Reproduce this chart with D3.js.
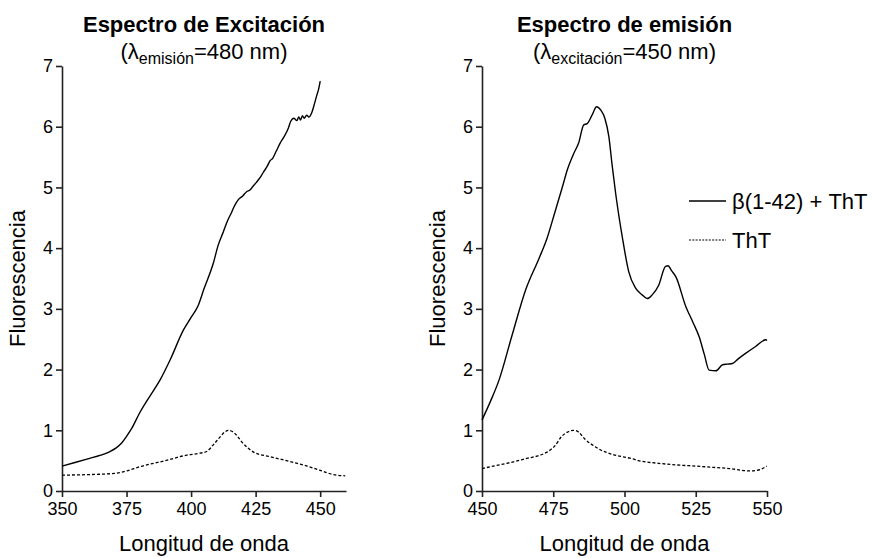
<!DOCTYPE html>
<html>
<head>
<meta charset="utf-8">
<script src="https://cdn.jsdelivr.net/npm/d3@7"></script>
<style>
  html, body { margin: 0; padding: 0; background: #fff; }
  svg { display: block; font-family: Arial, "Liberation Sans", sans-serif; }
</style>
</head>
<body>
<svg id="chart" width="877" height="558"></svg>
<script>
// ---------- Data ----------
const yTicks = [0, 1, 2, 3, 4, 5, 6, 7];
const excTicks = [350, 375, 400, 425, 450];
const emiTicks = [450, 475, 500, 525, 550];

// Left panel: excitation spectrum
const excBetaX = [350, 355, 360, 365, 368.6, 371, 373.1, 375, 377, 380, 384, 388, 392, 397, 400, 402.8, 405, 408.6, 410.5, 412.5, 414.2, 415.8, 416.5, 418.3, 420, 421.5, 422.9, 424, 425.2, 426.7, 428, 429.5, 430.6, 431.6, 433, 434.5, 435.8, 437.7, 438.6, 439.8, 441, 441.7, 442.4, 443.1, 443.8, 444.8, 445.6, 446.8, 447.8, 448.7, 449.4, 450];
const excBetaY = [0.41, 0.47, 0.53, 0.59, 0.65, 0.71, 0.79, 0.9, 1.03, 1.28, 1.56, 1.83, 2.17, 2.65, 2.86, 3.06, 3.33, 3.75, 4.05, 4.27, 4.46, 4.6, 4.67, 4.8, 4.86, 4.93, 4.96, 5.02, 5.08, 5.16, 5.25, 5.35, 5.44, 5.48, 5.6, 5.73, 5.82, 5.98, 6.09, 6.14, 6.1, 6.16, 6.11, 6.18, 6.14, 6.19, 6.16, 6.24, 6.38, 6.52, 6.62, 6.75];

const excThtX = [350, 360, 370.5, 375, 380.2, 390, 398.3, 403, 406, 408.6, 411, 413, 414.5, 416, 418, 419.6, 422, 424.2, 430, 435, 439.7, 445, 450, 455.2, 459.7];
const excThtY = [0.26, 0.27, 0.29, 0.33, 0.4, 0.5, 0.59, 0.62, 0.65, 0.76, 0.88, 0.97, 1.0, 0.98, 0.9, 0.81, 0.71, 0.64, 0.57, 0.52, 0.47, 0.41, 0.34, 0.27, 0.25];

// Right panel: emission spectrum
const emiBetaX = [450, 453, 456, 460.4, 465.3, 470, 472.8, 475.5, 478.1, 480, 482.2, 483.9, 485.7, 486.9, 488.6, 490.2, 491.6, 493.1, 494.5, 495.7, 496.9, 499.2, 501.5, 503.9, 506.2, 508, 509.7, 512, 514.4, 515.3, 516.5, 518, 521.5, 524, 526.2, 528, 529.7, 532.1, 534.4, 536, 537.9, 540, 542.6, 546, 549.6, 550];
const emiBetaY = [1.17, 1.48, 1.83, 2.54, 3.31, 3.83, 4.16, 4.58, 4.99, 5.3, 5.56, 5.73, 6.03, 6.05, 6.19, 6.33, 6.28, 6.14, 5.84, 5.35, 4.9, 4.19, 3.61, 3.34, 3.23, 3.17, 3.23, 3.39, 3.7, 3.71, 3.63, 3.53, 3.04, 2.78, 2.54, 2.25, 1.99, 1.98, 2.08, 2.09, 2.1, 2.18, 2.27, 2.38, 2.49, 2.48];

const emiThtX = [450, 455, 461, 466, 470.4, 472.8, 475.5, 478, 480, 482.2, 483.9, 486, 489.7, 491.5, 496, 501.9, 506, 511.1, 518, 525.2, 531, 536.9, 543.9, 547.4, 549.9];
const emiThtY = [0.37, 0.42, 0.48, 0.54, 0.59, 0.64, 0.74, 0.9, 0.97, 1.0, 0.97, 0.86, 0.73, 0.68, 0.6, 0.54, 0.49, 0.46, 0.43, 0.41, 0.39, 0.37, 0.33, 0.35, 0.41];

const legendLabels = ["\u03B2(1-42) + ThT", "ThT"];

// ---------- Drawing ----------
const svg = d3.select("#chart");
const plotTop = 66, plotBottom = 491;
const y = d3.scaleLinear().domain([0, 7]).range([plotBottom, plotTop]);
const axisColor = "#222";

function panel(opt) {
  const x = d3.scaleLinear().domain(opt.domain).range(opt.range);
  const g = svg.append("g");

  const xa = g.append("g").attr("transform", `translate(0,${plotBottom})`)
    .call(d3.axisBottom(x).tickValues(opt.ticks).tickFormat(d3.format("d")).tickSize(6).tickSizeOuter(0).tickPadding(5));
  const ya = g.append("g").attr("transform", `translate(${opt.range[0]},0)`)
    .call(d3.axisLeft(y).tickValues(yTicks).tickFormat(d3.format("d")).tickSize(6).tickSizeOuter(0).tickPadding(3));
  [xa, ya].forEach(a => {
    a.select(".domain").attr("stroke", axisColor).attr("stroke-width", 1.6);
    a.selectAll(".tick line").attr("stroke", axisColor).attr("stroke-width", 1.6);
    a.selectAll(".tick text").attr("fill", "#000").style("font-size", "18px")
      .style("font-family", "Arial, 'Liberation Sans', sans-serif");
  });

  const line = d3.line().x(d => x(d[0])).y(d => y(d[1])).curve(d3.curveMonotoneX);
  g.append("path").datum(d3.zip(opt.betaX, opt.betaY))
    .attr("d", line).attr("fill", "none").attr("stroke", "#000").attr("stroke-width", 1.4);
  g.append("path").datum(d3.zip(opt.thtX, opt.thtY))
    .attr("d", line).attr("fill", "none").attr("stroke", "#000").attr("stroke-width", 1.3)
    .attr("stroke-dasharray", "3,2");

  const cx = (opt.range[0] + opt.range[1]) / 2;
  g.append("text").attr("x", cx).attr("y", 32).attr("text-anchor", "middle")
    .style("font-size", "22px").style("font-weight", "bold").attr("fill", "#000")
    .text(opt.title);
  const st = g.append("text").attr("x", cx).attr("y", 59).attr("text-anchor", "middle")
    .style("font-size", "22px").attr("fill", "#000");
  st.append("tspan").text("(\u03BB");
  st.append("tspan").attr("dy", 5).style("font-size", "16px").text(opt.sub);
  st.append("tspan").attr("dy", -5).text(opt.subEnd);

  g.append("text").attr("x", cx).attr("y", 551).attr("text-anchor", "middle")
    .style("font-size", "22px").attr("fill", "#000").text("Longitud de onda");
  g.append("text").attr("transform", `translate(${opt.range[0] - 37},${(plotTop + plotBottom) / 2}) rotate(-90)`)
    .attr("text-anchor", "middle").style("font-size", "22px").attr("fill", "#000").text("Fluorescencia");
  return g;
}

panel({
  domain: [350, 460], range: [62, 346], ticks: excTicks,
  betaX: excBetaX, betaY: excBetaY, thtX: excThtX, thtY: excThtY,
  title: "Espectro de Excitaci\u00F3n", sub: "emisi\u00F3n", subEnd: "=480 nm)"
});
panel({
  domain: [450, 550], range: [482, 767], ticks: emiTicks,
  betaX: emiBetaX, betaY: emiBetaY, thtX: emiThtX, thtY: emiThtY,
  title: "Espectro de emisi\u00F3n", sub: "excitaci\u00F3n", subEnd: "=450 nm)"
});

const leg = svg.append("g");
const legY = [201, 240];
legendLabels.forEach((lab, i) => {
  leg.append("line").attr("x1", 689).attr("x2", 726).attr("y1", legY[i]).attr("y2", legY[i])
    .attr("stroke", "#000").attr("stroke-width", i === 0 ? 1.4 : 1.2)
    .attr("stroke-dasharray", i === 0 ? null : "2,1.3");
  leg.append("text").attr("x", 732).attr("y", legY[i] + 8).style("font-size", "22px")
    .attr("fill", "#000").text(lab);
});
</script>
</body>
</html>
